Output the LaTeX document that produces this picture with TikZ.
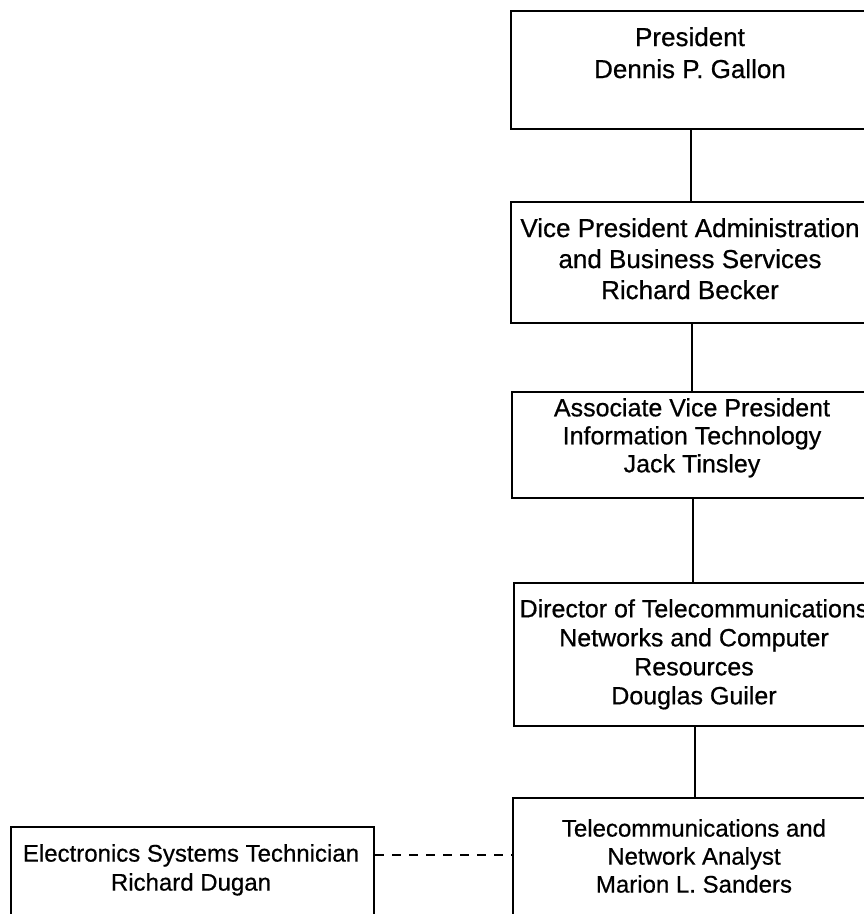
\documentclass[tikz,border=0pt]{standalone}
\usepackage{fontspec}
\setmainfont{Liberation Sans}[FakeBold=0.6]
\begin{document}
\begin{tikzpicture}[x=1pt,y=-1pt,
  orgbox/.style={draw=black, line width=2pt, fill=none},
  boxtext/.style={align=center, anchor=north, inner sep=0pt, text=black},
  conn/.style={draw=black, line width=2pt},
  dotconn/.style={draw=black, line width=2pt, dash pattern=on 9pt off 8pt}]
\useasboundingbox (0,0) rectangle (864,914);
\clip (0,0) rectangle (864,914);
\fill[white] (0,0) rectangle (864,914);
% boxes
\node[orgbox, anchor=north west, minimum width=362pt, minimum height=118pt] (b1) at (510,10) {};
\node[orgbox, anchor=north west, minimum width=362pt, minimum height=121pt] (b2) at (510,201) {};
\node[orgbox, anchor=north west, minimum width=362pt, minimum height=106pt] (b3) at (511,391) {};
\node[orgbox, anchor=north west, minimum width=362pt, minimum height=143pt] (b4) at (513,582) {};
\node[orgbox, anchor=north west, minimum width=362pt, minimum height=140pt] (b5) at (512,797) {};
\node[orgbox, anchor=north west, minimum width=363pt, minimum height=110pt] (b6) at (10,826) {};
% texts
\node[boxtext, font=\fontsize{26}{32}\selectfont] (t1) at (690,27) {President\\Dennis P. Gallon};
\node[boxtext, font=\fontsize{26}{31}\selectfont] (t2) at (690,218) {Vice President Administration\\and Business Services\\Richard Becker};
\node[boxtext, font=\fontsize{25}{28}\selectfont] (t3) at (692,398) {Associate Vice President\\Information Technology\\Jack Tinsley};
\node[boxtext, font=\fontsize{25}{29}\selectfont] (t4) at (694,599) {Director of Telecommunications\\Networks and Computer\\Resources\\Douglas Guiler};
\node[boxtext, font=\fontsize{24}{28}\selectfont] (t5) at (694,819) {Telecommunications and\\Network Analyst\\Marion L. Sanders};
\node[boxtext, font=\fontsize{24}{29}\selectfont] (t6) at (191,844) {Electronics Systems Technician\\Richard Dugan};
% connectors
\draw[conn] ([xshift=-1pt]b1.south) -- ([xshift=-1pt]b1.south |- b2.north);
\draw[conn] (b2.south) -- (b2.south |- b3.north);
\draw[conn] (b3.south) -- (b3.south |- b4.north);
\draw[conn] (b4.south) -- (b4.south |- b5.north);
\draw[dotconn] (b6.east |- 0,855) -- (b5.west |- 0,855);
\end{tikzpicture}
\end{document}
